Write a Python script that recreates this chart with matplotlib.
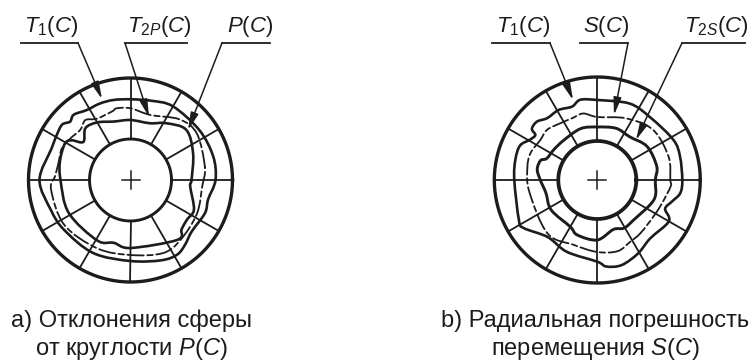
import numpy as np
import matplotlib
matplotlib.use("Agg")
import matplotlib.pyplot as plt
from matplotlib.path import Path
from matplotlib.patches import PathPatch

plt.rcParams['font.family'] = ['Liberation Sans', 'DejaVu Sans']
plt.rcParams['mathtext.fontset'] = 'custom'
plt.rcParams['mathtext.rm'] = 'Liberation Sans'
plt.rcParams['mathtext.it'] = 'Liberation Sans:italic'

# --- left panel: radial profiles (angle in degrees, radius)
a_t1_ang = [0, 16, 36, 60, 75, 90, 102, 112, 122, 131, 136, 141, 149, 158, 180, 201, 217, 243, 270, 291, 302, 310, 320, 336, 346]
a_t1_rad = [85, 86, 85, 85, 82, 80.7, 81.8, 82.4, 82.5, 86.5, 84, 88, 86.3, 85, 91, 85, 83, 82, 81, 86, 88, 84.7, 80, 81.5, 80]
a_t2_ang = [0, 23, 42, 58, 71, 90, 106, 120, 131, 141, 146, 151, 165, 180, 208, 241, 255, 270, 308, 316, 325, 335, 354]
a_t2_rad = [61, 68, 75, 67, 60, 60, 60.8, 66.5, 68.7, 60.6, 71, 75, 73, 70, 70, 69, 65, 68, 76, 71, 69, 70, 60]
a_p_ang = [10, 35, 51, 73, 90, 101, 105, 119, 127, 135, 145, 155, 167, 177, 187, 214, 244, 270, 294, 310, 333, 355]
a_p_rad = [75.5, 81, 78, 68, 71.7, 73, 71, 70, 75, 71, 73, 75.6, 74, 75.5, 80, 80, 76, 75, 80, 78, 74.5, 72]

# --- right panel
b_t1_ang = [0, 16, 28, 50, 67, 90, 102, 109, 119, 129, 136, 142, 144, 149, 156, 166, 180, 207, 213, 229, 247, 270, 276, 286, 299, 312, 330, 337, 344, 351]
b_t1_rad = [85, 86, 86, 82, 83, 80, 82, 77.6, 80, 79.6, 84, 83, 76.6, 78.4, 84.6, 84.4, 83, 88, 88, 75.6, 78, 81.7, 87, 88.5, 84, 78.8, 82.6, 73.7, 77.8, 84]
b_t2_ang = [0, 13, 34, 53, 70, 90, 108, 130, 145, 157, 161, 170, 180, 194, 213, 240, 250, 270, 288, 299, 312, 341]
b_t2_rad = [58, 61, 60, 54, 55, 53, 54, 52, 53, 55, 60, 61, 57, 53, 55, 54, 58.5, 60, 52, 55, 54, 60]
b_s_ang = [0, 18, 42, 65, 90, 102, 112, 123, 135, 145, 158, 170, 190, 227, 250, 270, 286, 298, 309, 327, 340, 355]
b_s_rad = [73, 75, 75, 68, 63, 68, 66.7, 67.7, 71, 69.6, 72, 71, 69, 73, 69, 72, 74, 70, 68.5, 67, 68.7, 73.6]

spoke_angles = list(range(0, 360, 30))

a_labels = [r"$\mathit{T}_{1}(\mathit{C})$", r"$\mathit{T}_{2\mathit{P}}(\mathit{C})$", r"$\mathit{P}(\mathit{C})$"]
b_labels = [r"$\mathit{T}_{1}(\mathit{C})$", r"$\mathit{S}(\mathit{C})$", r"$\mathit{T}_{2\mathit{S}}(\mathit{C})$"]
a_caption = ["а) Отклонения сферы", r"от круглости $\mathit{P}(\mathit{C})$"]
b_caption = ["b) Радиальная погрешность", r"перемещения $\mathit{S}(\mathit{C})$"]

fig = plt.figure(figsize=(7.49, 3.61), dpi=100)
ax = fig.add_axes([0, 0, 1, 1])
ax.set_xlim(0, 749)
ax.set_ylim(361, 0)
ax.axis('off')
INK = '#1c1c1c'


def polar(cx, cy, ang, rad):
    t = np.radians(np.asarray(ang, float))
    r = np.asarray(rad, float)
    return cx + r * np.cos(t), cy - r * np.sin(t)


def wheel(cx, cy, router, rinner, lw_in):
    th = np.linspace(0, 360, 361)
    ax.plot(*polar(cx, cy, th, np.full(361, router)), color=INK, lw=2.4)
    ax.plot(*polar(cx, cy, th, np.full(361, rinner)), color=INK, lw=lw_in)
    for s in spoke_angles:
        x, y = polar(cx, cy, [s, s], [rinner, router])
        ax.plot(x, y, color=INK, lw=1.3)
    ax.plot([cx - 9, cx + 9], [cy, cy], color=INK, lw=1.1)
    ax.plot([cx, cx], [cy - 9, cy + 9], color=INK, lw=1.1)


def curve(cx, cy, ang, rad, **kw):
    # closed smooth line through the read points
    x, y = polar(cx, cy, ang, rad)
    p = np.column_stack([x, y])
    n = len(p)
    verts = [p[0]]
    codes = [Path.MOVETO]
    for i in range(n):
        p0, p1, p2, p3 = p[i - 1], p[i], p[(i + 1) % n], p[(i + 2) % n]
        verts += [p1 + (p2 - p0) / 6, p2 - (p3 - p1) / 6, p2]
        codes += [Path.CURVE4] * 3
    ax.add_patch(PathPatch(Path(verts, codes), fill=False, edgecolor=INK,
                           capstyle='round', joinstyle='round', **kw))


def leader(x0, x1, xk, tip, label, xt):
    ax.plot([x0, x1], [43, 43], color=INK, lw=1.3)
    ax.annotate('', xy=tip, xytext=(xk, 43),
                arrowprops=dict(arrowstyle='-|>,head_width=0.17,head_length=0.75',
                                color=INK, lw=1.1, shrinkA=0, shrinkB=0, mutation_scale=14))
    ax.text(xt, 32, label, fontsize=16, ha='center', va='baseline', color=INK)


wheel(130.5, 180, 102, 41, 2.1)
curve(130.5, 180, a_t1_ang, a_t1_rad, lw=1.9)
curve(130.5, 180, a_t2_ang, a_t2_rad, lw=1.9)
curve(130.5, 180, a_p_ang, a_p_rad, lw=1.3, linestyle=(0, (9, 2, 3, 2)))

wheel(597.3, 180, 103, 39, 2.7)
curve(597.3, 180, b_t1_ang, b_t1_rad, lw=1.9)
curve(597.3, 180, b_t2_ang, b_t2_rad, lw=2.1)
curve(597.3, 180, b_s_ang, b_s_rad, lw=1.3, linestyle=(0, (9, 2, 3, 2)))

leader(21, 78, 78, (102, 99), a_labels[0], 51)
leader(125, 187, 125, (149, 117), a_labels[1], 159)
leader(222, 270, 222, (188, 130), a_labels[2], 250)
leader(492, 550, 550, (573, 100), b_labels[0], 523)
leader(580, 628, 628, (614, 115), b_labels[1], 606)
leader(682, 745, 682, (636, 140), b_labels[2], 716)

for cx, cap in ((131.5, a_caption), (595.5, b_caption)):
    ax.text(cx, 327, cap[0], fontsize=17, ha='center', va='baseline', color=INK, clip_on=True)
    ax.text(cx, 355, cap[1], fontsize=17, ha='center', va='baseline', color=INK, clip_on=True)

fig.savefig('out.png', dpi=100)
